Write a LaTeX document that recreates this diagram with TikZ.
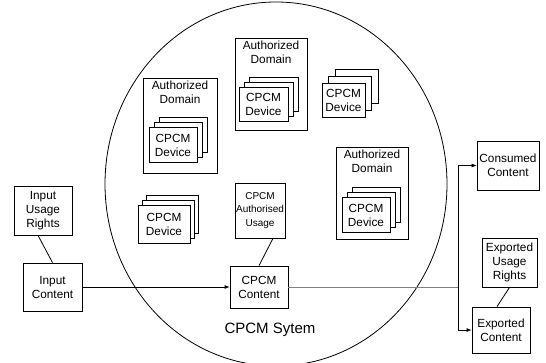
\documentclass[tikz,border=0pt]{standalone}
\usepackage{fontspec}
\setmainfont{Liberation Sans}
\usetikzlibrary{shadows,arrows.meta,shapes.geometric}
\begin{document}
\begin{tikzpicture}[x=1pt,y=-1pt,
  every node/.style={inner sep=0pt, align=center, font=\fontsize{11.8}{14}\selectfont},
  box/.style={draw, line width=0.8pt, fill=white},
  domainbox/.style={box, minimum width=72pt, minimum height=92pt},
  card/.style={box, minimum width=48pt, minimum height=35pt,
    copy shadow={shadow xshift=10pt, shadow yshift=10pt, draw, fill=white, line width=0.8pt},
    copy shadow={shadow xshift=5pt, shadow yshift=5pt, draw, fill=white, line width=0.8pt}},
  link/.style={line width=0.8pt},
  arr/.style={link, -{Latex[length=5pt,width=4pt]}},
]
\useasboundingbox (0,0) rectangle (546,363);
\fill[white] (0,0) rectangle (546,363);

% system boundary
\node[draw, line width=0.8pt, ellipse, minimum width=342pt, minimum height=364pt] (sysb) at (276,184) {};
\node[font=\fontsize{15}{17}\selectfont] (sys) at (270,330) {CPCM Sytem};

% authorized domains
\node[domainbox, minimum width=74pt, minimum height=95pt] (d1) at (180,125.5) {};
\node[anchor=north] (d1t) at ([yshift=-3pt]d1.north) {Authorized\\Domain};
\node[card] (d1c) at (173,145) {CPCM\\Device};

\node[domainbox] (d2) at (271,84) {};
\node[anchor=north] (d2t) at ([yshift=-3pt]d2.north) {Authorized\\Domain};
\node[card, minimum width=49pt, minimum height=34pt] (d2c) at (263.5,104) {CPCM\\Device};

\node[domainbox] (d3) at (372,193) {};
\node[anchor=north] (d3t) at ([yshift=-3pt]d3.north) {Authorized\\Domain};
\node[card] (d3c) at (366,215) {CPCM\\Device};

% standalone devices
\node[box, minimum width=43pt, minimum height=34pt,
  copy shadow={shadow xshift=13pt, shadow yshift=14pt, draw, fill=white, line width=0.8pt},
  copy shadow={shadow xshift=6.5pt, shadow yshift=7pt, draw, fill=white, line width=0.8pt}]
  (s1) at (343.5,100) {CPCM\\Device};
\node[box, minimum width=52pt, minimum height=38pt,
  copy shadow={shadow xshift=8pt, shadow yshift=10pt, draw, fill=white, line width=0.8pt},
  copy shadow={shadow xshift=4pt, shadow yshift=5pt, draw, fill=white, line width=0.8pt}]
  (s2) at (164,224) {CPCM\\Device};

% content flow
\node[box, minimum width=58pt, minimum height=49pt] (iur) at (43,210.5) {Input\\Usage\\Rights};
\node[box, minimum width=59pt, minimum height=48pt] (ic) at (52.5,287) {Input\\Content};
\node[box, minimum width=58pt, minimum height=42pt] (cc) at (259,287) {CPCM\\Content};
\node[box, minimum width=50pt, minimum height=55pt, font=\fontsize{10}{13.5}\selectfont] (cau) at (260,210.5) {CPCM\\Authorised\\Usage};
\node[box, minimum width=62pt, minimum height=49pt] (cr) at (508,165.5) {Consumed\\Content};
\node[box, minimum width=55pt, minimum height=49pt] (eur) at (509.5,262.5) {Exported\\Usage\\Rights};
\node[box, minimum width=58pt, minimum height=46pt] (ec) at (501,330) {Exported\\Content};
\coordinate (j) at (458,287);

\draw[link] ([xshift=-5pt]iur.south) -- (ic.north);
\draw[arr] (ic) -- (cc);
\draw[link] ([xshift=13pt]cau.south) -- (cc.north);
\draw[link, gray] (cc) -- (j);
\draw[arr] (j) |- (cr.west);
\draw[arr] (j) |- (ec.west);
\draw[link] (eur.south) -- ([xshift=-4pt]ec.north);
\end{tikzpicture}
\end{document}
